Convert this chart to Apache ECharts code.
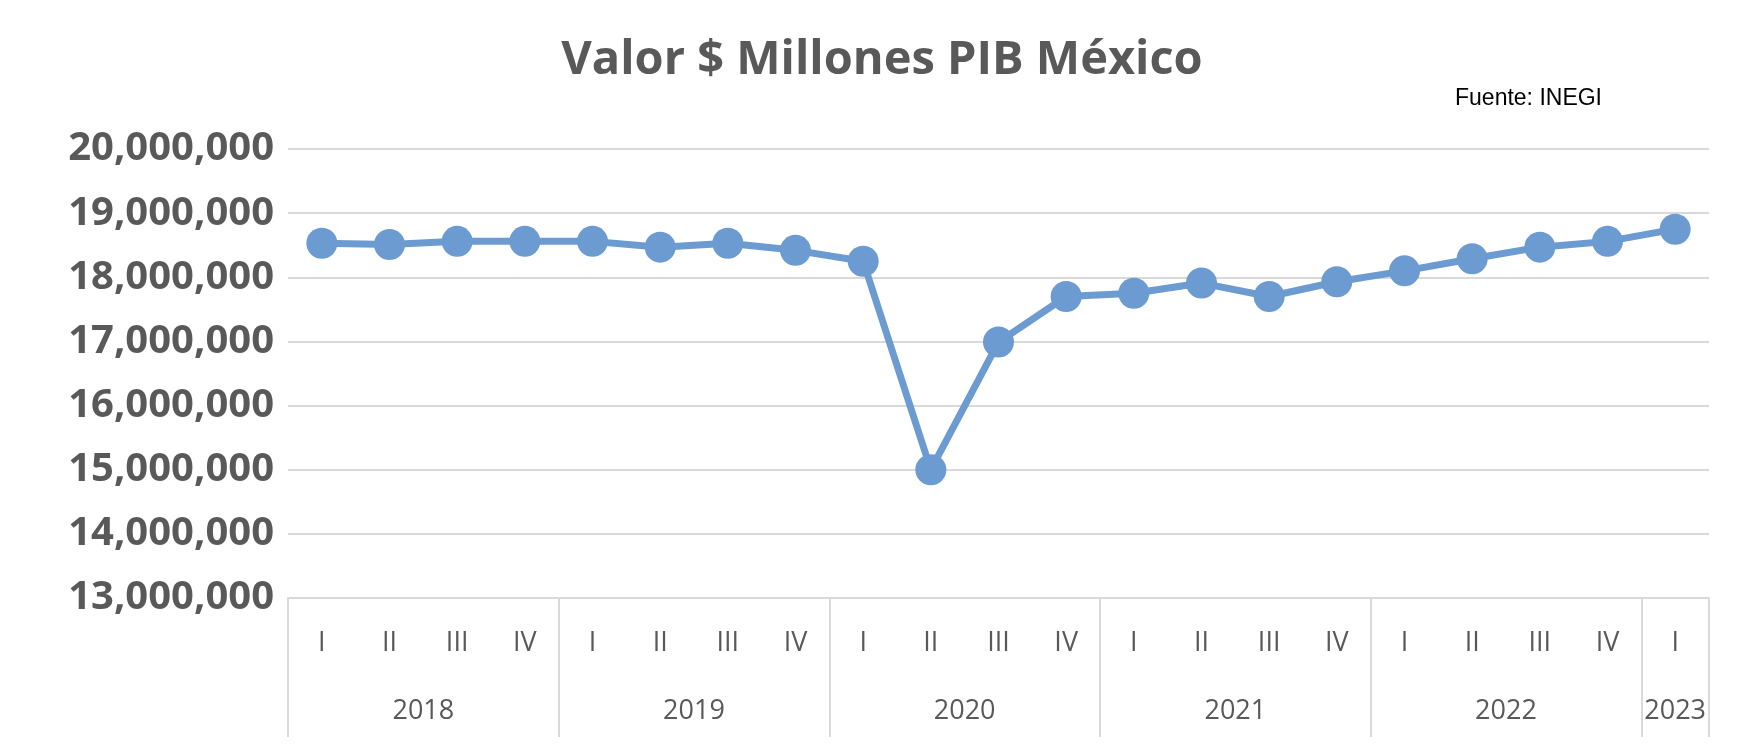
<!DOCTYPE html>
<html>
<head>
<meta charset="utf-8">
<script src="https://cdn.jsdelivr.net/npm/echarts@6/dist/echarts.min.js"></script>
<style>html,body{margin:0;background:#fff}#main{width:1742px;height:750px}</style>
</head>
<body>
<div id="main"></div>
<script>
// trimestres y valores (millones)
var quarters = ['I','II','III','IV','I','II','III','IV','I','II','III','IV','I','II','III','IV','I','II','III','IV','I'];
var pibValues = [18530000,18510000,18560000,18560000,18560000,18470000,18530000,18420000,18250000,15000000,16990000,17700000,
	17750000,17910000,17700000,17930000,18100000,18290000,18470000,18560000,18750000];
var years = ['2018','2019','2020','2021','2022','2023'];
var yearSizes = [4,4,4,4,4,1];

var yearCenters = [];
var acc = 0;
for (var i = 0; i < yearSizes.length; i++) {
	yearCenters.push(acc + yearSizes[i] / 2);
	acc += yearSizes[i];
}

var gris = '#595959';
var myChart = echarts.init(document.getElementById('main'));
var option = {
	animation: false,
	title: [{
		text: 'Valor $ Millones PIB México',
		left: 877, top: 32, textAlign: 'center',
		textStyle: { fontFamily: 'Open Sans', fontSize: 47, fontWeight: 'bold', color: gris }
	}, {
		text: 'Fuente: INEGI',
		left: 1450, top: 82,
		textStyle: { fontFamily: 'Liberation Sans', fontSize: 23, fontWeight: 'normal', color: '#000' }
	}],
	grid: { left: 288, right: 33, top: 149, bottom: 152 },
	xAxis: [{
		type: 'category',
		data: quarters,
		boundaryGap: true,
		axisLine: { lineStyle: { color: '#d9d9d9', width: 2 } },
		axisTick: {
			show: true, length: 139,
			interval: function (index) { return index % 4 === 0; },
			lineStyle: { color: '#d9d9d9', width: 2 }
		},
		axisLabel: { interval: 0, margin: 32, fontFamily: 'Open Sans', fontSize: 27, color: gris }
	}, {
		type: 'value',
		position: 'bottom',
		min: 0, max: quarters.length, interval: 0.5,
		axisLine: { show: false },
		axisTick: { show: false },
		splitLine: { show: false },
		axisLabel: {
			margin: 100, fontFamily: 'Open Sans', fontSize: 27, color: gris,
			showMinLabel: true, showMaxLabel: true,
			formatter: function (v) {
				for (var k = 0; k < yearCenters.length; k++) {
					if (Math.abs(v - yearCenters[k]) < 0.01) return years[k];
				}
				return '';
			}
		}
	}, {
		// borde derecho
		type: 'value', position: 'bottom', min: 0, max: 1, interval: 1,
		axisLine: { show: false }, splitLine: { show: false },
		axisLabel: { show: false },
		axisTick: { show: true, length: 139, lineStyle: { color: '#d9d9d9', width: 2 } }
	}],
	yAxis: {
		type: 'value',
		min: 13000000, max: 20000000, interval: 1000000,
		axisLine: { show: false },
		axisTick: { show: false },
		splitLine: { lineStyle: { color: '#d9d9d9', width: 2 } },
		axisLabel: {
			margin: 14, fontFamily: 'Open Sans', fontSize: 40, fontWeight: 'bold', color: gris,
			formatter: function (v) { return v.toLocaleString('en-US'); }
		}
	},
	series: [{
		type: 'line',
		data: pibValues,
		symbol: 'circle',
		symbolSize: 31,
		itemStyle: { color: '#6b9bd1' },
		lineStyle: { color: '#6b9bd1', width: 7 }
	}]
};
myChart.setOption(option);
</script>
</body>
</html>
